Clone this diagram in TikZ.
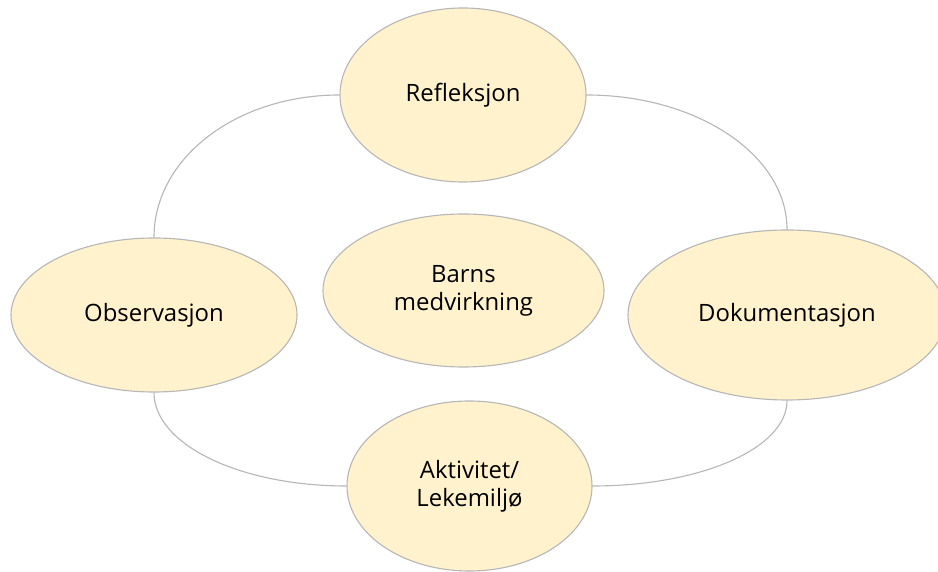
\documentclass[tikz,border=0pt]{standalone}
\usepackage{fontspec}
\setmainfont{Open Sans}
\usetikzlibrary{shapes.geometric}
\definecolor{bubble}{HTML}{FFF2CC}
\definecolor{rim}{HTML}{B7B7B7}

\begin{document}
\begin{tikzpicture}[
  blob/.style = {ellipse, draw = rim, line width = 0.8pt, fill = bubble, inner sep = 0pt,
                 align = center, font = \fontsize{17}{20}\selectfont},
  loop/.style = {draw = rim, line width = 0.8pt}]
\useasboundingbox (0,0) rectangle (23.45,14.3);
\node[blob, minimum width = 6.15cm, minimum height = 4.35cm] (refl) at (11.575, 11.925) {Refleksjon};
\node[blob, minimum width = 7.15cm, minimum height = 3.85cm] (obs) at (3.85, 6.425) {Observasjon};
\node[blob, minimum width = 7.025cm, minimum height = 3.825cm] (barn) at (11.5875, 7.0375) {Barns\\medvirkning};
\node[blob, minimum width = 7.95cm, minimum height = 4.25cm] (dok) at (19.675, 6.425) {Dokumentasjon};
\node[blob, minimum width = 6.125cm, minimum height = 4.25cm] (akt) at (11.7375, 2.15) {Aktivitet/\\Lekemiljø};
\draw[loop] (refl.west) .. controls +(-2.57,0) and +(0,1.99) .. (obs.north);
\draw[loop] (refl.east) .. controls +(2.77,0) and +(0,1.86) .. (dok.north);
\draw[loop] (obs.south) .. controls +(0,-1.30) and +(-2.66,0) .. (akt.west);
\draw[loop] (akt.east) .. controls +(2.69,0) and +(0,-1.2) .. (dok.south);
\end{tikzpicture}
\end{document}
